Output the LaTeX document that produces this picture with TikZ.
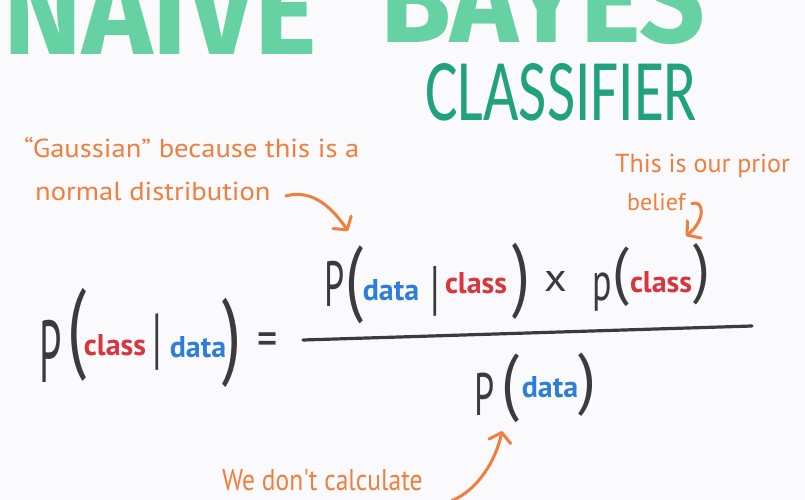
\documentclass[tikz,border=0pt]{standalone}
\usepackage{fontspec}
\usepackage{graphicx}
\usepackage{xcolor}
\definecolor{cPaper}{HTML}{FAF9FB}
\definecolor{cTitle}{HTML}{66D1A3}
\definecolor{cSub}{HTML}{21A27F}
\definecolor{cNote}{HTML}{F07E3E}
\definecolor{cInk}{HTML}{3B3A3C}
\definecolor{cClass}{HTML}{D8353D}
\definecolor{cData}{HTML}{2E7ED8}
\newfontfamily\notefont[FakeStretch=1.1]{PT Sans}
\newfontfamily\calcfont[FakeStretch=0.85]{PT Sans}
\newfontfamily\eqfont{PT Sans}
\newfontfamily\titlefont{Fira Sans}
\newfontfamily\subfont{Carlito}
\usepackage{tikz}
\usetikzlibrary{arrows.meta}
\tikzset{
  title-text/.style={text=cTitle,font=\titlefont\bfseries,inner sep=0pt,
    anchor=south west},
  sub-text/.style={text=cSub,font=\subfont,inner sep=0pt,anchor=north west},
  note-text/.style={text=cNote,font=\notefont\fontsize{26}{30}\selectfont,
    inner sep=0pt,anchor=base west},
  eq-word/.style={font=\eqfont\bfseries\fontsize{30}{32}\selectfont,
    inner sep=0pt,anchor=base},
  eq-class/.style={eq-word,text=cClass},
  eq-data/.style={eq-word,text=cData},
  eq-glyph/.style={text=cInk,font=\eqfont\fontsize{40}{40}\selectfont,
    inner sep=0pt},
  arrow-note/.style={-{Straight Barb[length=9pt,width=22pt,round]},
    line width=3pt,draw=cNote,line cap=round},
  frac-line/.style={line width=3.2pt,draw=cInk,line cap=round},
}
% stretched glyph: x scale, y scale, character
\newcommand{\glyph}[3]{\scalebox{#1}[#2]{#3}}

\begin{document}
\begin{tikzpicture}[x=1pt,y=-1pt]
  \useasboundingbox (0,0) rectangle (805,500);
  \fill[cPaper] (0,0) rectangle (805,500);
  \clip (0,0) rectangle (805,500);

  % title, cut off by the top edge
  \node[title-text] (naive) at (3,55) {\resizebox{314pt}{88pt}{NAIVE}};
  \node[title-text] (bayes) at (380,45) {\resizebox{325pt}{88pt}{BAYES}};
  \node[sub-text] (sub) at (425,63) {\resizebox{272pt}{57pt}{CLASSIFIER}};

  % notes
  \node[note-text] (gauss) at (24,157) {“Gaussian” because this is a};
  \node[note-text] (normal) at (35,200) {normal distribution};
  \node[note-text,font=\eqfont\fontsize{26}{30}\selectfont] (prior) at (615,172) {This is our prior};
  \node[note-text,font=\eqfont\fontsize{24}{30}\selectfont] (belief) at (627,210) {belief};
  \node[note-text,font=\calcfont\fontsize{30}{34}\selectfont] (calc) at (222,490) {We don't calculate};

  % left side
  \node[eq-glyph] (lp) at (51,351) {\glyph{1}{2.2}{P}};
  \node[eq-glyph] (lo) at (77,335) {\glyph{1.7}{2.5}{(}};
  \node[eq-class] (lclass) at (115,355) {class};
  \node[eq-glyph] (lbar) at (157,342) {\glyph{1}{1.7}{|}};
  \node[eq-data] (ldata) at (198,357) {data};
  \node[eq-glyph] (lc) at (232,343) {\glyph{1.7}{2.4}{)}};
  \node[eq-glyph] (eq) at (268,345) {\glyph{1}{1.3}{=}};

  % numerator
  \node[eq-glyph] (np) at (335,284) {\glyph{0.9}{1.6}{P}};
  \node[eq-glyph] (no) at (354,285) {\glyph{1.6}{2.1}{(}};
  \node[eq-data] (ndata) at (391,300) {data};
  \node[eq-glyph] (nbar) at (435,291) {\glyph{1}{1.5}{|}};
  \node[eq-class] (nclass) at (476,293) {class};
  \node[eq-glyph] (nc) at (521,281) {\glyph{1.6}{2.05}{)}};
  \node[eq-glyph] (times) at (556,281) {\glyph{1.1}{1}{x}};
  \node[eq-glyph] (np2) at (602,292) {\glyph{0.9}{1.35}{p}};
  \node[eq-glyph] (no2) at (621,277) {\glyph{1.5}{1.6}{(}};
  \node[eq-class] (nclass2) at (661,292) {class};
  \node[eq-glyph] (nc2) at (702,274) {\glyph{1.5}{1.65}{)}};

  \coordinate (frac-l) at (303,340);
  \coordinate (frac-r) at (752,326);
  \draw[frac-line] (frac-l) -- (frac-r);

  % denominator
  \node[eq-glyph] (dp) at (485,394) {\glyph{0.9}{1.5}{P}};
  \node[eq-glyph] (do) at (510,388) {\glyph{1.6}{1.85}{(}};
  \node[eq-data] (ddata) at (550,397) {data};
  \node[eq-glyph] (dc) at (587,385) {\glyph{1.6}{1.7}{)}};

  % note arrows
  \coordinate (tip-gauss) at (348,231);
  \coordinate (tip-prior) at (686,236);
  \coordinate (tip-den) at (502,431);
  \draw[arrow-note] ([xshift=15pt,yshift=-5pt]normal.east)
    .. controls (315,188) and (335,212) .. (tip-gauss);
  \draw[arrow-note] ([xshift=6pt,yshift=-2pt]belief.east)
    .. controls (704,199) and (706,220) .. (tip-prior);
  \draw[arrow-note] ([xshift=29pt,yshift=-21pt]calc.east)
    .. controls (478,490) and (496,460) .. (tip-den);
\end{tikzpicture}
\end{document}
